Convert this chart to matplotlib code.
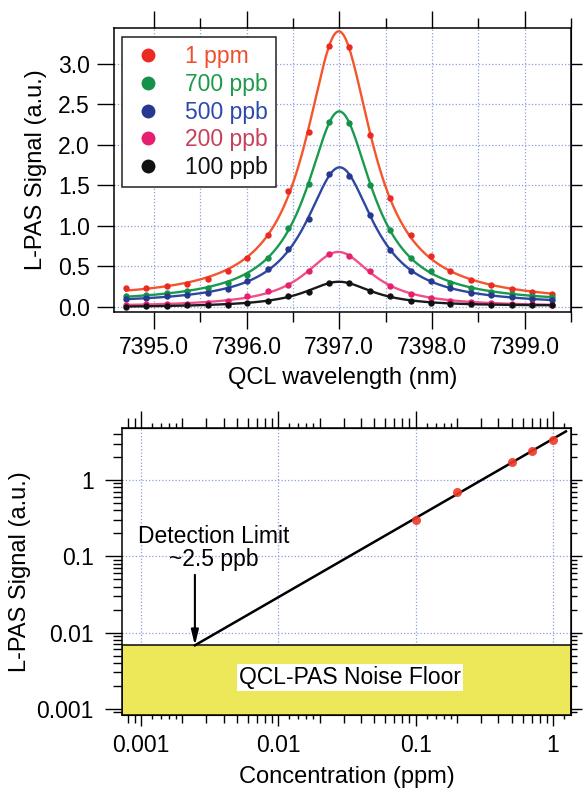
import numpy as np
import matplotlib
matplotlib.use("Agg")
import matplotlib.pyplot as plt
from matplotlib.ticker import MultipleLocator, FormatStrFormatter, FixedLocator, FixedFormatter, NullLocator
from matplotlib.lines import Line2D

plt.rcParams['font.family'] = ['Liberation Sans', 'DejaVu Sans']

# ---------------- data ----------------
wavelength = [7394.70, 7394.92, 7395.14, 7395.36, 7395.58, 7395.80, 7396.01, 7396.23,
              7396.45, 7396.67, 7396.89, 7397.11, 7397.33, 7397.55, 7397.77, 7397.99,
              7398.20, 7398.42, 7398.64, 7398.86, 7399.08, 7399.30]

sig_1ppm = [0.23, 0.23, 0.26, 0.28, 0.35, 0.44, 0.61, 0.89, 1.43, 2.16, 3.22,
            3.21, 2.12, 1.35, 0.89, 0.63, 0.44, 0.33, 0.27, 0.22, 0.18, 0.16]
sig_700ppb = [0.13, 0.15, 0.17, 0.20, 0.24, 0.30, 0.40, 0.61, 0.98, 1.52, 2.28,
              2.27, 1.51, 0.95, 0.61, 0.44, 0.30, 0.24, 0.19, 0.16, 0.14, 0.12]
sig_500ppb = [0.10, 0.11, 0.13, 0.15, 0.17, 0.22, 0.32, 0.47, 0.71, 1.09, 1.64,
              1.62, 1.14, 0.70, 0.44, 0.32, 0.23, 0.17, 0.15, 0.12, 0.10, 0.09]
sig_200ppb = [0.03, 0.035, 0.04, 0.04, 0.05, 0.07, 0.13, 0.20, 0.27, 0.44, 0.65,
              0.63, 0.44, 0.26, 0.16, 0.11, 0.075, 0.06, 0.05, 0.04, 0.04, 0.03]
sig_100ppb = [0.005, 0.01, 0.015, 0.02, 0.025, 0.03, 0.05, 0.075, 0.14, 0.19, 0.30,
              0.29, 0.20, 0.135, 0.075, 0.055, 0.04, 0.035, 0.03, 0.03, 0.025, 0.02]

series_labels = ['1 ppm', '700 ppb', '500 ppb', '200 ppb', '100 ppb']
line_colors = ['#F4552C', '#1A9A4E', '#2E48A0', '#F0508A', '#1A1A1A']
marker_colors = ['#EC2A24', '#14924A', '#26388F', '#E61F6E', '#111111']
legend_text_colors = ['#F04E2C', '#1E9A4A', '#2B4BA8', '#C8405A', '#111111']

concentration = [0.1, 0.2, 0.5, 0.7, 1.0]          # ppm
peak_signal = [0.30, 0.70, 1.72, 2.40, 3.34]       # a.u.
noise_floor = 0.0068

wl_ticks = [7395.0, 7396.0, 7397.0, 7398.0, 7399.0]
conc_ticks = [0.001, 0.01, 0.1, 1]
conc_ticklabels = ['0.001', '0.01', '0.1', '1']
sigl_ticks = [0.001, 0.01, 0.1, 1]
sigl_ticklabels = ['0.001', '0.01', '0.1', '1']

GRID = dict(color='#8C9FE0', linestyle=':', linewidth=0.9)
FS_TICK = 16.5
FS_LABEL = 17


def lorentz_fit(x, y):
    """Least-squares Lorentzian with a linear baseline."""
    x = np.asarray(x, float)
    y = np.asarray(y, float)
    best = None
    for x0 in np.linspace(7396.9, 7397.1, 41):
        for w in np.linspace(0.25, 0.8, 111):
            L = 1.0 / (1.0 + ((x - x0) / w) ** 2)
            M = np.column_stack([L, np.ones_like(x), x - x0])
            coef, *_ = np.linalg.lstsq(M, y, rcond=None)
            r = np.sum((M @ coef - y) ** 2)
            if best is None or r < best[0]:
                best = (r, x0, w, coef)
    _, x0, w, (A, c, b) = best
    return lambda t: A / (1.0 + ((t - x0) / w) ** 2) + c + b * (t - x0)


fig = plt.figure(figsize=(5.83, 7.89), dpi=100)

# ---------------- top panel: spectra ----------------
ax1 = fig.add_axes([114 / 583, 1 - 312 / 789, 457 / 583, 284 / 789])
ax1.set_xlim(7394.57, 7399.50)
ax1.set_ylim(-0.062, 3.444)

all_series = [sig_1ppm, sig_700ppb, sig_500ppb, sig_200ppb, sig_100ppb]
xf = np.linspace(min(wavelength), max(wavelength), 600)
for sig, lc, mc in zip(all_series, line_colors, marker_colors):
    f = lorentz_fit(wavelength, sig)
    ax1.plot(xf, f(xf), color=lc, lw=1.7, zorder=3)
    ax1.plot(wavelength, sig, 'o', color=mc, ms=4.6, mec='none', zorder=4)

ax1.xaxis.set_major_locator(FixedLocator(wl_ticks))
ax1.xaxis.set_major_formatter(FormatStrFormatter('%.1f'))
ax1.xaxis.set_minor_locator(MultipleLocator(0.5))
ax1.yaxis.set_major_locator(MultipleLocator(0.5))
ax1.yaxis.set_major_formatter(FormatStrFormatter('%.1f'))
ax1.yaxis.set_minor_locator(NullLocator())
ax1.grid(True, which='both', axis='x', **GRID)
ax1.grid(True, which='major', axis='y', **GRID)
ax1.set_axisbelow(True)

ax1.tick_params(axis='x', which='major', direction='out', length=12, width=1.0,
                top=True, bottom=True, labelsize=FS_TICK, pad=5)
ax1.tick_params(axis='x', which='minor', direction='out', length=7.5, width=1.0,
                top=True, bottom=True)
ax1.tick_params(axis='y', which='major', direction='out', length=12.5, width=1.0,
                right=False, labelsize=FS_TICK, pad=5)
for s in ax1.spines.values():
    s.set_linewidth(1.1)

r1 = ax1.secondary_yaxis('right')
r1.set_ticks([0.0, 0.5, 1.0, 1.5, 2.0, 2.5, 3.0])
r1.tick_params(which='major', direction='out', length=8, width=1.0, labelright=False)
r1.tick_params(which='minor', length=0)

ax1.set_xlabel('QCL wavelength (nm)', fontsize=FS_LABEL, labelpad=6)
ax1.set_ylabel('L-PAS Signal (a.u.)', fontsize=FS_LABEL, labelpad=8)

handles = [Line2D([], [], marker='o', ls='none', color=c, ms=10, mec='none')
           for c in marker_colors]
leg = ax1.legend(handles, series_labels, loc='upper left',
                 bbox_to_anchor=((122 - 114) / 457, (312 - 37) / 284),
                 fontsize=FS_TICK, frameon=True, fancybox=False, framealpha=1,
                 edgecolor='#222222', labelspacing=0.21, handlelength=1.6,
                 handletextpad=0.8, borderpad=0.35, borderaxespad=0)
leg.get_frame().set_linewidth(1.1)
for txt, c in zip(leg.get_texts(), legend_text_colors):
    txt.set_color(c)

# ---------------- bottom panel: calibration ----------------
ax2 = fig.add_axes([122 / 583, 1 - 715 / 789, 449 / 583, 287 / 789])
ax2.set_xscale('log')
ax2.set_yscale('log')
ax2.set_xlim(0.000728, 1.35)
ax2.set_ylim(0.00083, 4.8)

# power-law fit to the peak signals
b_fit, a_fit = np.polyfit(np.log10(concentration), np.log10(peak_signal), 1)
det_limit = 10 ** ((np.log10(noise_floor) - a_fit) / b_fit)
x_line = np.array([det_limit, 1.24])
ax2.plot(x_line, 10 ** (a_fit + b_fit * np.log10(x_line)), color='k', lw=1.8, zorder=4)
ax2.plot(concentration, peak_signal, 'o', color='#F03A2A', ms=6.5, mec='none',
         alpha=0.9, zorder=5)

ax2.axhspan(1e-5, noise_floor, facecolor='#ECE85A', edgecolor='#1A1A1A', lw=1.2, zorder=2)
ax2.text(0.0331, 0.00257, 'QCL-PAS Noise Floor', fontsize=FS_TICK, ha='center',
         va='center', zorder=6,
         bbox=dict(facecolor='white', edgecolor='none', pad=1.5))

ax2.annotate('', xy=(det_limit, noise_floor), xytext=(det_limit, 0.057),
             arrowprops=dict(arrowstyle='-|>,head_width=0.22,head_length=0.9',
                             color='k', lw=1.5, shrinkA=0, shrinkB=0), zorder=6)
ax2.text(0.0034, 0.128, 'Detection Limit\n~2.5 ppb', fontsize=FS_TICK,
         ha='center', va='center', linespacing=1.0, zorder=6)

# tick layout
decades = [1e-4, 1e-3, 1e-2, 1e-1, 1.0]
medium = [m * d for d in decades for m in range(2, 10)]
fine = [m * d for d in decades[1:] for m in (1.2, 1.4, 1.6, 1.8)]

ax2.xaxis.set_major_locator(FixedLocator(conc_ticks))
ax2.xaxis.set_major_formatter(FixedFormatter(conc_ticklabels))
ax2.xaxis.set_minor_locator(FixedLocator(medium))
ax2.yaxis.set_major_locator(FixedLocator(sigl_ticks))
ax2.yaxis.set_major_formatter(FixedFormatter(sigl_ticklabels))
ax2.yaxis.set_minor_locator(FixedLocator(medium))
ax2.xaxis.set_minor_formatter(FixedFormatter([]))
ax2.yaxis.set_minor_formatter(FixedFormatter([]))
ax2.grid(True, which='major', **GRID)
ax2.set_axisbelow(True)

ax2.tick_params(axis='x', which='major', direction='out', length=8, width=1.0,
                top=False, labelsize=FS_TICK, pad=6)
ax2.tick_params(axis='x', which='minor', direction='out', length=5.5, width=1.0, top=False)
ax2.tick_params(axis='y', which='major', direction='out', length=12.5, width=1.0,
                right=False, labelsize=FS_TICK, pad=8)
ax2.tick_params(axis='y', which='minor', direction='out', length=6.5, width=1.0, right=False)
for s in ax2.spines.values():
    s.set_linewidth(1.1)

t2 = ax2.secondary_xaxis('top')
t2.set_ticks(conc_ticks)
t2.xaxis.set_minor_locator(FixedLocator(medium))
t2.tick_params(which='major', direction='out', length=12.5, width=1.0, labeltop=False)
t2.tick_params(which='minor', direction='out', length=7, width=1.0, labeltop=False)

t2f = ax2.secondary_xaxis('top')
t2f.set_ticks(fine)
t2f.xaxis.set_minor_locator(NullLocator())
t2f.tick_params(which='major', direction='out', length=3.5, width=1.0, labeltop=False)
t2f.tick_params(which='minor', length=0)

b2f = ax2.secondary_xaxis('bottom')
b2f.set_ticks(fine)
b2f.xaxis.set_minor_locator(NullLocator())
b2f.tick_params(which='major', direction='out', length=3, width=1.0, labelbottom=False)
b2f.tick_params(which='minor', length=0)

r2 = ax2.secondary_yaxis('right')
r2.set_ticks(sigl_ticks)
r2.yaxis.set_minor_locator(FixedLocator(medium))
r2.tick_params(which='major', direction='out', length=8, width=1.0, labelright=False)
r2.tick_params(which='minor', direction='out', length=4.5, width=1.0, labelright=False)

ax2.set_xlabel('Concentration (ppm)', fontsize=FS_LABEL, labelpad=6)
ax2.set_ylabel('L-PAS Signal (a.u.)', fontsize=FS_LABEL, labelpad=4)

fig.savefig('out.png', dpi=100)
